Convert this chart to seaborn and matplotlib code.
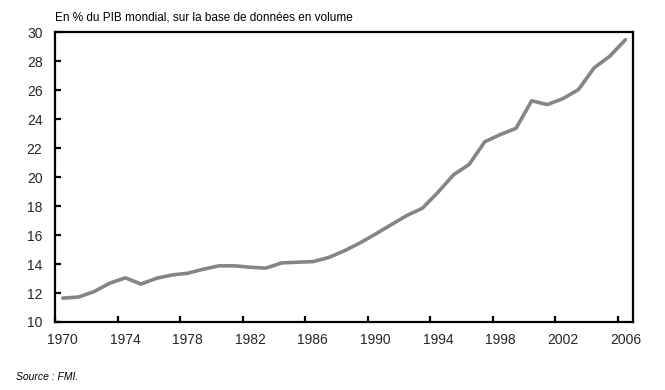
import matplotlib
matplotlib.use("Agg")
import matplotlib.pyplot as plt
import seaborn as sns
import pandas as pd
import numpy as np

years = list(range(1970, 2007))
share = [11.65, 11.72, 12.10, 12.68, 13.05, 12.62, 13.02, 13.25, 13.37, 13.65,
         13.88, 13.88, 13.78, 13.72, 14.08, 14.13, 14.17, 14.45, 14.91, 15.45,
         16.07, 16.71, 17.35, 17.85, 18.95, 20.17, 20.88, 22.45, 22.95, 23.38,
         25.28, 25.02, 25.43, 26.06, 27.56, 28.36, 29.50]
tick_labels = ["1970", "1974", "1978", "1982", "1986", "1990", "1994", "1998", "2002", "2006"]
title_text = "En % du PIB mondial, sur la base de données en volume"
source_text = "Source : FMI."

sns.set_theme(style="white")
plt.rcParams['font.family'] = ['Liberation Sans', 'DejaVu Sans']

df = pd.DataFrame({"year": years, "share": share})

fig = plt.figure(figsize=(6.65, 3.9), dpi=100)
ax = fig.add_axes([0.0827, 0.1744, 0.8695, 0.7423])

sns.lineplot(data=df, x="year", y="share", ax=ax, color="#858585", linewidth=2.6)

ax.set_xlim(years[0] - 0.5, years[-1] + 0.5)
ax.set_ylim(10, 30)
ax.set_yticks(np.arange(10, 31, 2))
ax.set_yticklabels([str(v) for v in range(10, 31, 2)])

lab_pos = [int(t) for t in tick_labels]
ax.set_xticks([p - 0.5 for p in lab_pos])
ax.set_xticklabels([])
ax.set_xticks(lab_pos, minor=True)
ax.set_xticklabels(tick_labels, minor=True)

ax.tick_params(axis="x", which="major", direction="in", length=4, width=1.6, color="black", bottom=True)
ax.tick_params(axis="x", which="minor", length=0, pad=8, labelsize=10, bottom=True)
ax.tick_params(axis="y", direction="in", length=4, width=1.6, color="black", pad=9, labelsize=10, left=True)

for s in ax.spines.values():
    s.set_color("black")
    s.set_linewidth(1.6)
    s.set_visible(True)

ax.set_xlabel("")
ax.set_ylabel("")
ax.grid(False)

fig.text(0.082, 0.955, title_text, fontsize=8.5, ha="left", va="center", color="black")
fig.text(0.024, 0.033, source_text, fontsize=7.5, ha="left", va="center", style="italic", color="black")

fig.savefig("out.png", dpi=100)
